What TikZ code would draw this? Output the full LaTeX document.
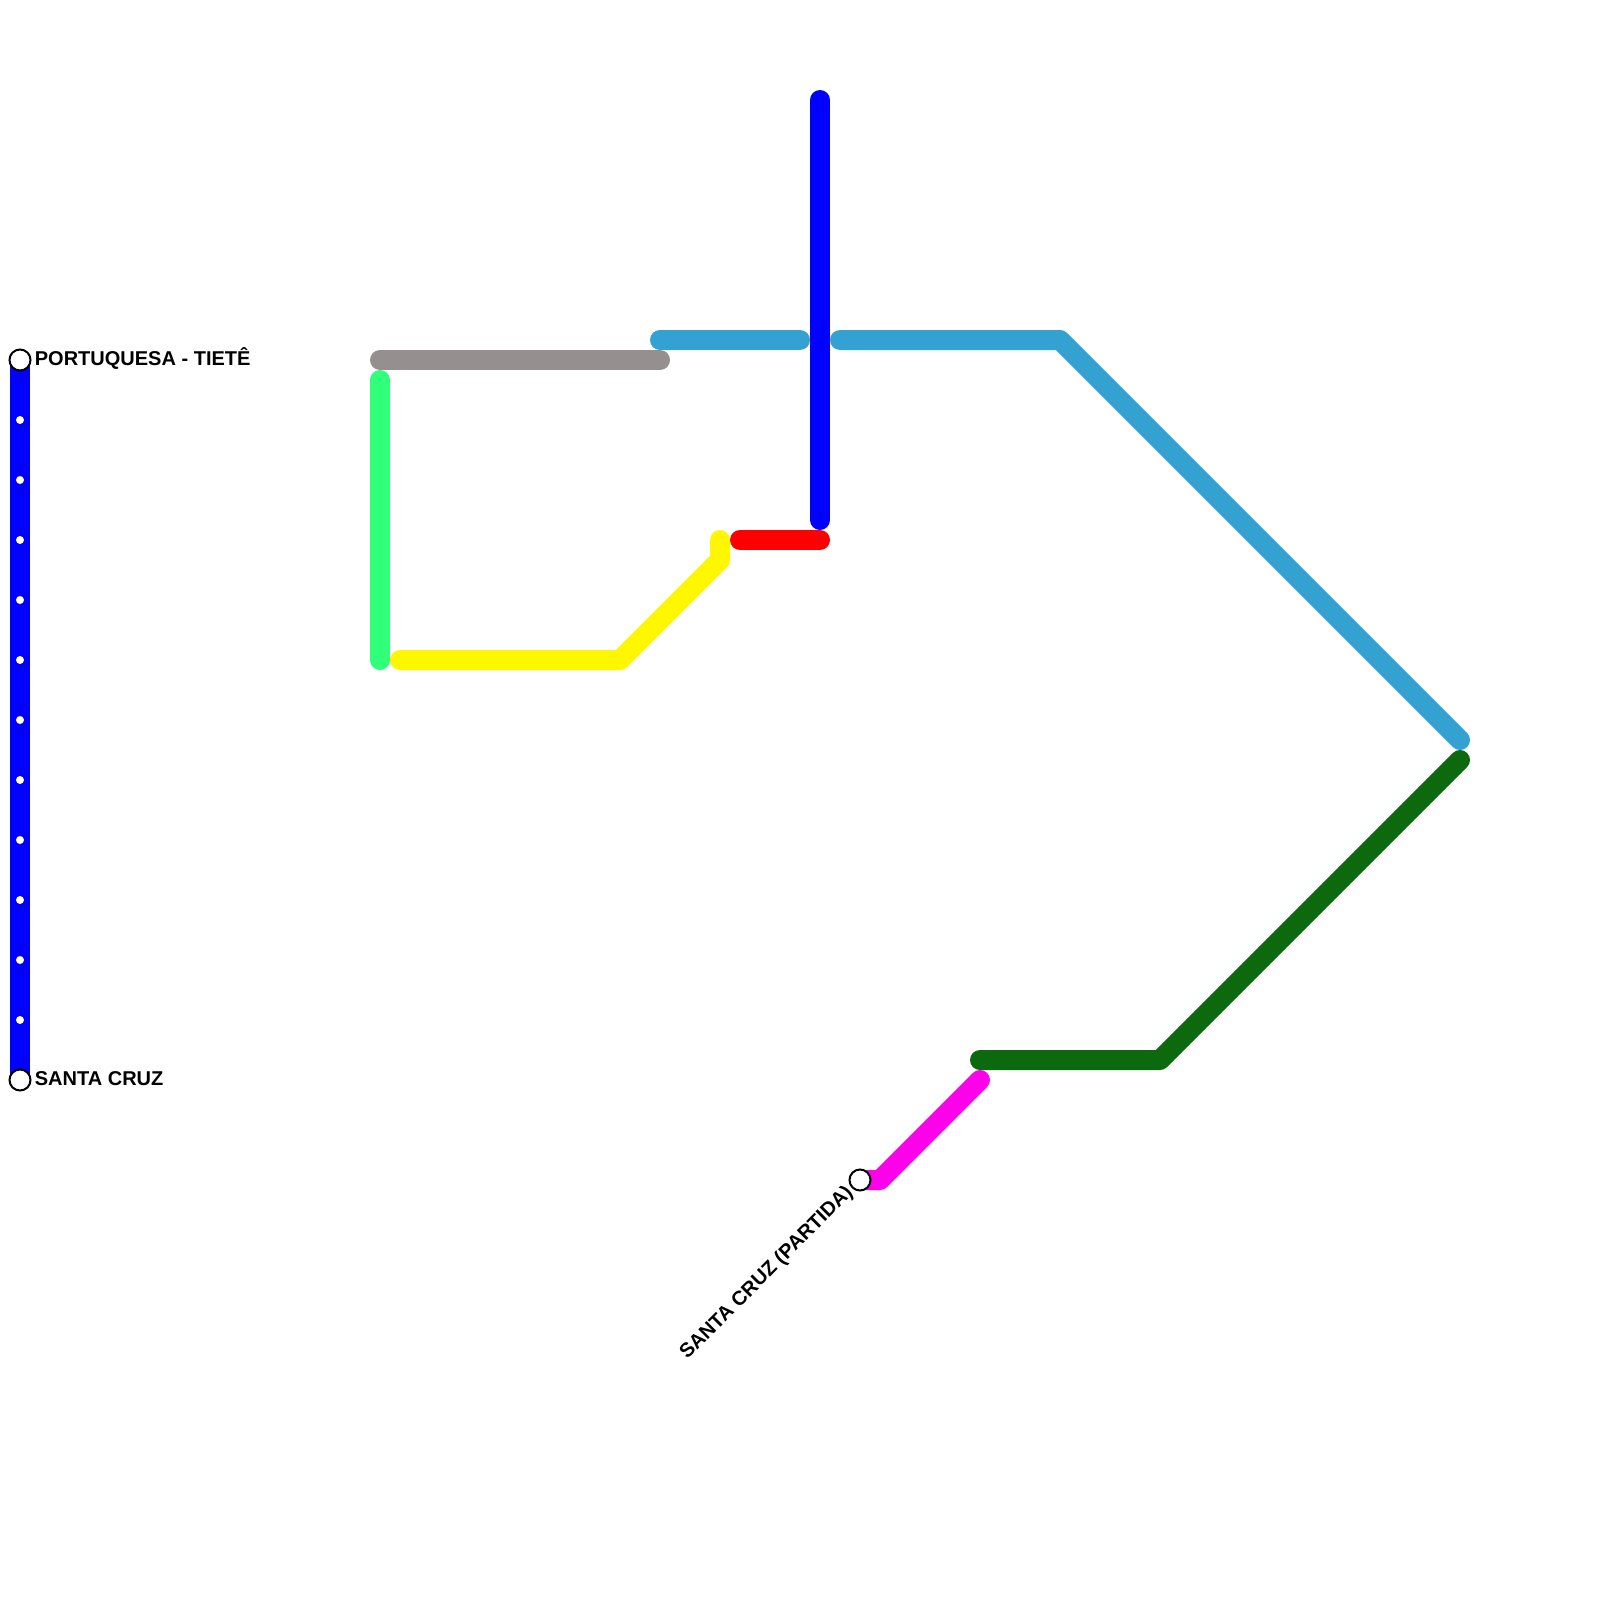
\documentclass[tikz,border=0pt]{standalone}
\usepackage{fontspec}
\setmainfont{Liberation Sans}
\usetikzlibrary{positioning, backgrounds}
\definecolor{lineBlue}{RGB}{0,0,255}
\definecolor{lineSky}{RGB}{51,161,209}
\definecolor{lineGray}{RGB}{150,143,143}
\definecolor{lineMint}{RGB}{48,255,122}
\definecolor{lineYellow}{RGB}{255,247,0}
\definecolor{lineRed}{RGB}{255,0,0}
\definecolor{lineForest}{RGB}{13,105,13}
\definecolor{lineMagenta}{RGB}{255,0,234}
\begin{document}
\begin{tikzpicture}[
    x=0.5pt, y=-0.5pt,
    font=\fontsize{10}{12}\selectfont\bfseries,
    l/.style={line width=10pt, line cap=round, line join=round},
    st/.style={circle, draw=black, fill=white, line width=1pt, minimum size=10.5pt, inner sep=0pt},
    halt/.style={circle, fill=white, minimum size=4pt, inner sep=0pt},
    lab/.style={inner sep=0pt},
  ]
    \useasboundingbox (0,0) rectangle (1600,1600);
    \coordinate (b1) at (820,100);
    \coordinate (b2) at (820,520);
    \coordinate (s1) at (660,340);
    \coordinate (s2) at (800,340);
    \coordinate (s3) at (840,340);
    \coordinate (s4) at (1060,340);
    \coordinate (s5) at (1460,740);
    \coordinate (g1) at (380,360);
    \coordinate (g2) at (660,360);
    \coordinate (m1) at (380,380);
    \coordinate (m2) at (380,660);
    \coordinate (y1) at (400,660);
    \coordinate (y2) at (620,660);
    \coordinate (y3) at (720,560);
    \coordinate (y4) at (720,540);
    \coordinate (r1) at (740,540);
    \coordinate (r2) at (820,540);
    \coordinate (f1) at (980,1060);
    \coordinate (f2) at (1160,1060);
    \coordinate (f3) at (1460,760);
    \coordinate (p1) at (980,1080);
    \coordinate (p2) at (880,1180);
    \node[st] (tiete) at (20,360) {};
    \node[st] (cruz) at (20,1080) {};
    \node[st] (partida) at (860,1180) {};
    \foreach \i in {420,480,...,1020}
      \node[halt] (d\i) at (20,\i) {};
    \begin{pgfonlayer}{background}
      \draw[l, lineSky] (s1) -- (s2);
      \draw[l, lineSky] (s3) -- (s4) -- (s5);
      \draw[l, lineGray] (g1) -- (g2);
      \draw[l, lineMint] (m1) -- (m2);
      \draw[l, lineYellow] (y1) -- (y2) -- (y3) -- (y4);
      \draw[l, lineRed] (r1) -- (r2);
      \draw[l, lineBlue] (b1) -- (b2);
      \draw[l, lineForest] (f1) -- (f2) -- (f3);
      \draw[l, lineMagenta] (partida.center) -- (p2) -- (p1);
      \draw[l, lineBlue] (tiete.center) -- (cruz.center);
    \end{pgfonlayer}
    \node[lab, right=1.5pt of tiete, yshift=0.5pt] (tieteL) {PORTUQUESA - TIETÊ};
    \node[lab, right=1.5pt of cruz, yshift=0.5pt] (cruzL) {SANTA CRUZ};
    \node[lab, anchor=east, rotate=45, xshift=-7pt, yshift=0pt] (partidaL) at (partida.center) {SANTA CRUZ (PARTIDA)};
  \end{tikzpicture}
\end{document}
